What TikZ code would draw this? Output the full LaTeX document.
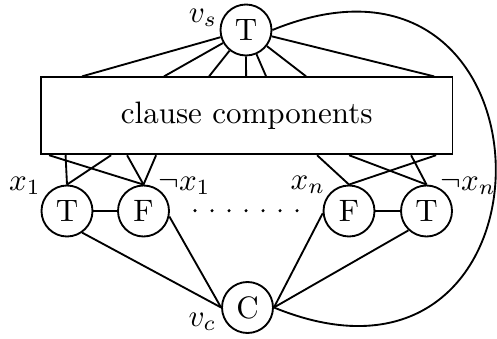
\documentclass[tikz,border=0pt]{standalone}
\usetikzlibrary{calc}
\begin{document}
\begin{tikzpicture}[x=0.3226pt,y=0.3226pt,line width=0.6pt,
  vertex/.style={circle,draw,inner sep=0pt,minimum size=16.45pt},
  lbl/.style={inner sep=0pt}]
\useasboundingbox (0,0) rectangle (497,338);
% nodes
\node[vertex] (vs) at (246,308) {T};
\node[vertex] (C) at (247.5,30.5) {C};
\node[vertex] (t1) at (67,127) {T};
\node[vertex] (f1) at (143.5,127) {F};
\node[vertex] (fn) at (349,127) {F};
\node[vertex] (tn) at (426.5,127) {T};
\node[draw,inner sep=0pt,minimum width=132.75pt,minimum height=24.84pt] (cc) at (246.75,222.2) {clause components};
% labels
\node[lbl] (lvs) at (203,320) {$v_s$};
\node[lbl] (lx1) at (25,152) {$x_1$};
\node[lbl] (lnx1) at (184.5,152) {$\neg x_1$};
\node[lbl] (lxn) at (308,153) {$x_n$};
\node[lbl] (lnxn) at (468,152) {$\neg x_n$};
\node[lbl] (lvc) at (202.5,16) {$v_c$};
% top fan
\foreach \o in {42,124,169,206,226,266,394}
  \draw (vs) -- ($(cc.north west)+(\o,0)$);
% bottom connections
\foreach \o in {25.5,71} \draw ($(cc.south west)+(\o,0)$) -- (t1.north);
\foreach \o in {9,87,116} \draw ($(cc.south west)+(\o,0)$) -- (f1.north);
\foreach \o in {277,396} \draw ($(cc.south west)+(\o,0)$) -- (fn.north);
\foreach \o in {309,371} \draw ($(cc.south west)+(\o,0)$) -- (tn.north);
% literal pairs
\draw (t1) -- (f1);
\draw (fn) -- (tn);
% dots
\foreach \x in {195,212,229,246,263,280,297}
  \fill (\x,127.3) circle (0.55pt);
% to C
\draw (t1.-55) -- (C.west);
\draw (f1.-12) -- (C.west);
\draw (fn.-175) -- (C.east);
\draw (tn.-133) -- (C.east);
% big arc
\draw (vs.east) .. controls (569,429) and (571,-91) .. (C.east);
\end{tikzpicture}
\end{document}
